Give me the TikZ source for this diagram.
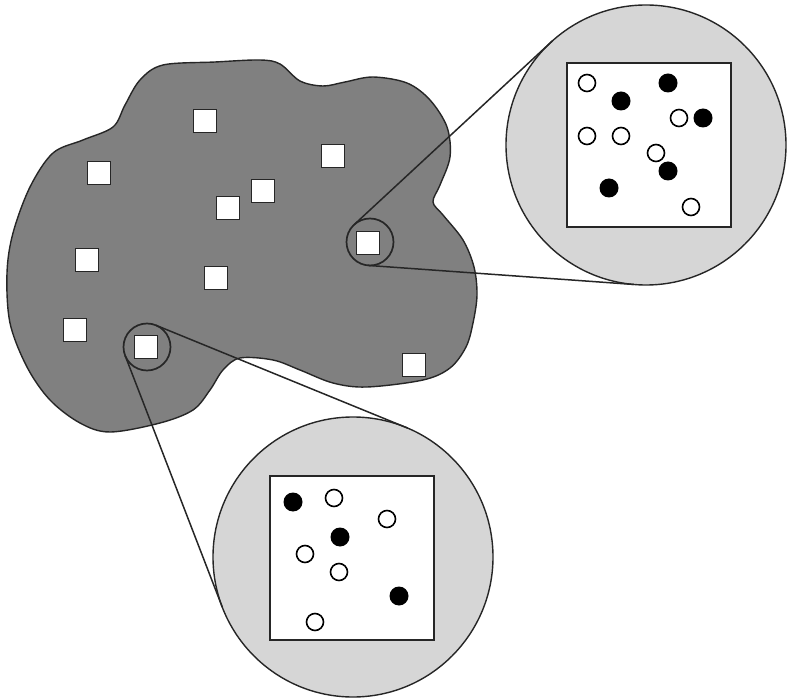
\documentclass[tikz,border=0pt]{standalone}
\usetikzlibrary{calc}
\definecolor{blobgray}{gray}{0.5}
\definecolor{lensgray}{gray}{0.84}
\definecolor{ink}{gray}{0.15}
\begin{document}
\begin{tikzpicture}[x=1pt,y=-1pt,
  cell/.style={rectangle,draw=ink,fill=white,line width=1.6pt,minimum size=23pt,inner sep=0pt,outer sep=0pt},
  loupe/.style={circle,draw=ink,line width=1.7pt,minimum size=47pt,inner sep=0pt,outer sep=0pt},
  lens/.style={circle,draw=ink,fill=lensgray,line width=1.4pt,minimum size=280pt,inner sep=0pt,outer sep=0pt},
  framebox/.style={rectangle,draw=ink,fill=white,line width=1.6pt,minimum size=164pt,inner sep=0pt},
  odot/.style={circle,draw=black,fill=white,line width=1.6pt,minimum size=17pt,inner sep=0pt},
  fdot/.style={circle,fill=black,minimum size=19pt,inner sep=0pt},
  ray/.style={draw=ink,line width=1.5pt}]
\useasboundingbox (0,0) rectangle (787,700);
% region
\draw[fill=blobgray,draw=ink,line width=1.4pt] plot[smooth cycle,tension=0.55] coordinates {
(163,65) (215,62) (260,60) (280,64) (300,81) (323,86) (345,82) (373,77) (407,83) (430,100) (447,127) (450,157) (440,185) (433,202) (443,215) (463,240) (474,267) (477,295) (473,323) (466,347) (450,368) (423,380) (367,387) (333,383) (300,370) (273,360) (240,358) (223,370) (210,390) (193,410) (160,423) (110,432) (80,423) (50,400) (27,367) (10,323) (7,273) (13,233) (30,187) (53,153) (83,140) (113,127) (125,105) (140,80)};
% sample cells
\node[cell] (q1) at (205,121) {};
\node[cell] (q2) at (333,156) {};
\node[cell] (q3) at (99,173) {};
\node[cell] (q4) at (263,191) {};
\node[cell] (q5) at (228,208) {};
\node[cell] (q6) at (368,243) {};
\node[cell] (q7) at (87,260) {};
\node[cell] (q8) at (216,278) {};
\node[cell] (q9) at (75,330) {};
\node[cell] (q10) at (146,347) {};
\node[cell] (q11) at (414,365) {};
% magnifier circles
\node[loupe] (z1) at (370,242) {};
\node[loupe] (z2) at (147,347) {};
% enlarged views
\node[lens] (b1) at (646,145) {};
\node[lens] (b2) at (353,557) {};
% rays
\draw[ray] (z1.132.93) -- (b1.132.93);
\draw[ray] (z1.265.79) -- (b1.265.79);
\draw[ray] (z2.67.67) -- (b2.67.67);
\draw[ray] (z2.201.23) -- (b2.201.23);
% inner frames
\node[framebox] (w1) at (649,145) {};
\node[framebox] (w2) at (352,558) {};
% dots top-right
\node[odot] (a1) at (587,83) {};
\node[fdot] (a2) at (668,83) {};
\node[fdot] (a3) at (621,101) {};
\node[odot] (a4) at (679,118) {};
\node[fdot] (a5) at (703,118) {};
\node[odot] (a6) at (587,136) {};
\node[odot] (a7) at (621,136) {};
\node[odot] (a8) at (656,153) {};
\node[fdot] (a9) at (668,171) {};
\node[fdot] (a10) at (609,188) {};
\node[odot] (a11) at (691,207) {};
% dots bottom
\node[fdot] (c1) at (293,502) {};
\node[odot] (c2) at (334,498) {};
\node[odot] (c3) at (387,519) {};
\node[fdot] (c4) at (340,537) {};
\node[odot] (c5) at (305,554) {};
\node[odot] (c6) at (339,572) {};
\node[fdot] (c7) at (399,596) {};
\node[odot] (c8) at (315,622) {};
\end{tikzpicture}
\end{document}
